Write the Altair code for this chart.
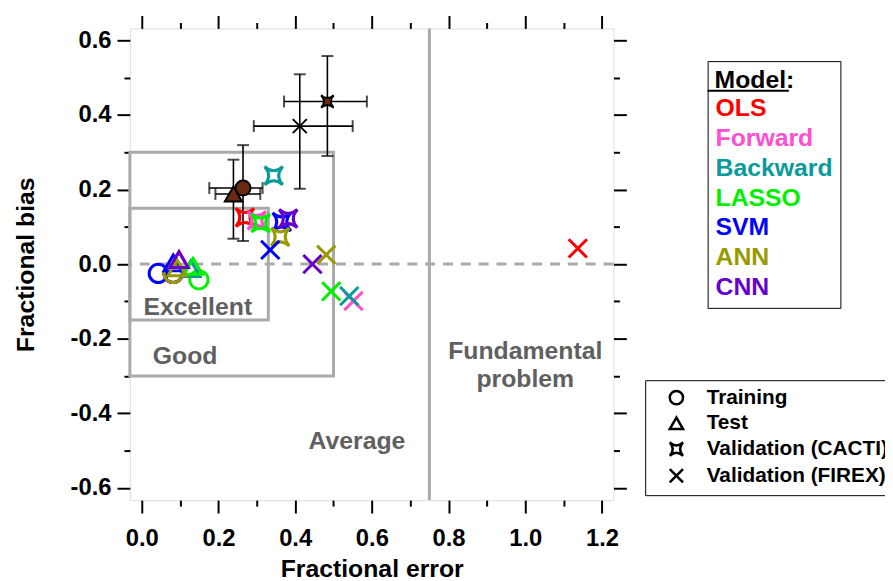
import altair as alt
import pandas as pd

# ---------------- data ----------------
MODELS = ["OLS", "Forward", "Backward", "LASSO", "SVM", "ANN", "CNN"]
MODEL_COLORS = ["#ff0000", "#ff4fd0", "#0a9a9a", "#00f000", "#0000ff", "#999900", "#6600cc"]
DATASETS = ["Training", "Test", "Validation (CACTI)", "Validation (FIREX)"]

TRAIN_FE = [0.082, 0.082, 0.082, 0.149, 0.043, 0.082, 0.082]
TRAIN_FB = [-0.025, -0.025, -0.025, -0.042, -0.025, -0.025, -0.025]
TEST_FE = [0.097, 0.097, 0.128, 0.134, 0.082, 0.092, 0.097]
TEST_FB = [0.012, 0.012, -0.012, -0.006, 0.003, -0.010, 0.012]
CACTI_FE = [0.269, 0.300, 0.344, 0.310, 0.365, 0.361, 0.382]
CACTI_FB = [0.125, 0.117, 0.237, 0.110, 0.113, 0.073, 0.122]
FIREX_FE = [1.137, 0.552, 0.541, 0.494, 0.335, 0.481, 0.445]
FIREX_FB = [0.042, -0.099, -0.086, -0.073, 0.038, 0.025, 0.000]
# drawing order of the training circles (later = on top)
TRAIN_DRAW = ["OLS", "Forward", "Backward", "CNN", "LASSO", "SVM", "ANN"]

# reference points with error bars (brown / black)
REF_SET = ["Training", "Test", "Validation (CACTI)", "Validation (FIREX)"]
REF_FE = [0.264, 0.239, 0.484, 0.412]
REF_FB = [0.204, 0.188, 0.436, 0.370]
REF_FE_LO = [0.176, 0.192, 0.371, 0.292]
REF_FE_HI = [0.315, 0.309, 0.587, 0.550]
REF_FB_LO = [0.062, 0.068, 0.290, 0.202]
REF_FB_HI = [0.319, 0.280, 0.558, 0.509]

# performance zones
BOX_NAME = ["Good", "Excellent"]
BOX_FE_MAX = [0.50, 0.33]
BOX_FB_MAX = [0.30, 0.15]
FUNDAMENTAL_FE = 0.75

ANNOT_TEXT = ["Excellent", "Good", "Average", "Fundamental\nproblem"]
ANNOT_FE = [0.146, 0.113, 0.561, 1.0]
ANNOT_FB = [-0.116, -0.246, -0.475, -0.233]

X_MAJOR = [0.0, 0.2, 0.4, 0.6, 0.8, 1.0, 1.2]
X_MINOR = [0.1, 0.3, 0.5, 0.7, 0.9, 1.1]
Y_MAJOR = [-0.6, -0.4, -0.2, 0.0, 0.2, 0.4, 0.6]
Y_MINOR = [-0.5, -0.3, -0.1, 0.1, 0.3, 0.5]
X_DOMAIN = [-0.031, 1.23]
Y_DOMAIN = [-0.633, 0.632]

# ---------------- tables ----------------
rows = []
fe_lists = {"Training": (TRAIN_FE, TRAIN_FB), "Test": (TEST_FE, TEST_FB),
            "Validation (CACTI)": (CACTI_FE, CACTI_FB), "Validation (FIREX)": (FIREX_FE, FIREX_FB)}
for ds in DATASETS:
    fe, fb = fe_lists[ds]
    order = TRAIN_DRAW if ds == "Training" else MODELS
    for m in order:
        i = MODELS.index(m)
        rows.append({"model": m, "dataset": ds, "fe": fe[i], "fb": fb[i]})
pts = pd.DataFrame(rows)

ref = pd.DataFrame({"dataset": REF_SET, "fe": REF_FE, "fb": REF_FB,
                    "fe_lo": REF_FE_LO, "fe_hi": REF_FE_HI,
                    "fb_lo": REF_FB_LO, "fb_hi": REF_FB_HI})
ref_h = pd.concat([ref.assign(xe=ref.fe_lo), ref.assign(xe=ref.fe_hi)])
ref_v = pd.concat([ref.assign(ye=ref.fb_lo), ref.assign(ye=ref.fb_hi)])

boxes = pd.DataFrame({"name": BOX_NAME, "x0": [X_DOMAIN[0]] * 2, "x1": BOX_FE_MAX,
                      "y0": [-v for v in BOX_FB_MAX], "y1": BOX_FB_MAX})
annot = pd.DataFrame({"text": ANNOT_TEXT, "fe": ANNOT_FE, "fb": ANNOT_FB})

# ---------------- styles ----------------
FONT = "Liberation Sans"
GRAY = "#aaaaaa"
BROWN = "#6b2a10"
STAR = "M-1,-1Q0,-0.1,1,-1Q0.1,0,1,1Q0,0.1,-1,1Q-0.1,0,-1,-1Z"
XCROSS = "M-1,-1L1,1M-1,1L1,-1"
SHAPES = ["circle", "triangle-up", STAR, XCROSS]
REF_MARK_SIZE = [230, 300, 160, 200]

xs = alt.Scale(domain=X_DOMAIN, nice=False, zero=False)
ys = alt.Scale(domain=Y_DOMAIN, nice=False, zero=False)
shape_scale = alt.Scale(domain=DATASETS, range=SHAPES)
color_scale = alt.Scale(domain=MODELS, range=MODEL_COLORS)

LBL = "(datum.value < 0 ? '-' : '') + format(abs(datum.value), '.1f')"


def X(field, axis=None):
    return alt.X(field, type="quantitative", scale=xs, axis=axis)


def Y(field, axis=None):
    return alt.Y(field, type="quantitative", scale=ys, axis=axis)


# zones
box_layer = alt.Chart(boxes).mark_rect(fillOpacity=0, stroke=GRAY, strokeWidth=3).encode(
    x=X("x0"), x2="x1", y=Y("y0"), y2="y1")
zero_line = alt.Chart(pd.DataFrame({"fb": [0.0]})).mark_rule(
    color=GRAY, strokeWidth=3, strokeDash=[10, 8]).encode(y=Y("fb"))
fund_line = alt.Chart(pd.DataFrame({"fe": [FUNDAMENTAL_FE]})).mark_rule(
    color=GRAY, strokeWidth=3).encode(x=X("fe"))
annot_layer = alt.Chart(annot).mark_text(
    font=FONT, fontSize=25, fontWeight="bold", color="#606060", lineBreak="\n", lineHeight=28
).encode(x=X("fe"), y=Y("fb"), text="text:N")

# reference points with error bars
err_h = alt.Chart(ref).mark_rule(color="black", strokeWidth=1.6).encode(
    x=X("fe_lo"), x2="fe_hi", y=Y("fb"))
err_v = alt.Chart(ref).mark_rule(color="black", strokeWidth=1.6).encode(
    x=X("fe"), y=Y("fb_lo"), y2="fb_hi")
cap_h = alt.Chart(ref_h).mark_tick(orient="vertical", color="black", size=12, thickness=2).encode(
    x=X("xe"), y=Y("fb"))
cap_v = alt.Chart(ref_v).mark_tick(orient="horizontal", color="black", size=12, thickness=2).encode(
    x=X("fe"), y=Y("ye"))
ref_layers = []
for ds, shp, sz in zip(DATASETS, SHAPES, REF_MARK_SIZE):
    ref_layers.append(
        alt.Chart(ref).transform_filter(alt.datum.dataset == ds).mark_point(
            shape=shp, size=sz, filled=True, fill=BROWN, stroke="black", strokeWidth=2,
            opacity=1, fillOpacity=1
        ).encode(x=X("fe"), y=Y("fb"))
    )

# model points
model_pts = alt.Chart(pts).mark_point(filled=False, size=340, strokeWidth=3, opacity=1).encode(
    x=X("fe"), y=Y("fb"),
    color=alt.Color("model:N", scale=color_scale, legend=alt.Legend(
        title="Model:", orient="none", legendX=583, legendY=33,
        strokeColor="black", padding=7,
        symbolOpacity=0, symbolSize=0, symbolStrokeWidth=0,
        labelOffset={"expr": "-24"},
        titleFont=FONT, titleFontSize=25, titleFontWeight="bold", titleColor="black",
        titlePadding=3,
        labelFont=FONT, labelFontSize=25, labelFontWeight="bold",
        labelColor={"expr": "scale('color', datum.value)"},
        rowPadding=4.1, labelLimit=400)),
    shape=alt.Shape("dataset:N", scale=shape_scale, legend=alt.Legend(
        title=None, orient="none", legendX=520, legendY=355,
        strokeColor="black", padding=7,
        symbolSize=180, symbolStrokeColor="black", symbolFillColor="transparent",
        symbolStrokeWidth=2.5, symbolOffset=14, labelOffset=20,
        labelFont=FONT, labelFontSize=21, labelFontWeight="bold", labelColor="black",
        rowPadding=2, labelLimit=400)),
)

# axes (major + minor on each of the four sides)
common = dict(grid=False, domain=False, tickColor="black", tickWidth=2,
              labelFont=FONT, labelFontWeight="bold", labelColor="black", labelFontSize=24,
              titleFont=FONT, titleFontWeight="bold", titleColor="black", titleFontSize=25)
ax_x_major = alt.Axis(orient="bottom", values=X_MAJOR, tickSize=13, labelPadding=14,
                      labelExpr=LBL, title="Fractional error", titlePadding=6, **common)
ax_x_minor = alt.Axis(orient="bottom", values=X_MINOR, tickSize=6, labels=False, title=None, **common)
ax_x_top = alt.Axis(orient="top", values=X_MAJOR, tickSize=13, labels=False, title=None, **common)
ax_x_top_minor = alt.Axis(orient="top", values=X_MINOR, tickSize=6, labels=False, title=None, **common)
ax_y_major = alt.Axis(orient="left", values=Y_MAJOR, tickSize=13, labelPadding=6,
                      labelExpr=LBL, title="Fractional bias", titlePadding=32, **common)
ax_y_minor = alt.Axis(orient="left", values=Y_MINOR, tickSize=6, labels=False, title=None, **common)
ax_y_right = alt.Axis(orient="right", values=Y_MAJOR, tickSize=13, labels=False, title=None, **common)
ax_y_right_minor = alt.Axis(orient="right", values=Y_MINOR, tickSize=6, labels=False, title=None, **common)

axis_src = alt.Chart(pts).mark_point(opacity=0)
axes_layers = [
    axis_src.encode(x=X("fe", ax_x_major), y=Y("fb", ax_y_major)),
    axis_src.encode(x=X("fe", ax_x_minor), y=Y("fb", ax_y_minor)),
    axis_src.encode(x=X("fe", ax_x_top), y=Y("fb", ax_y_right)),
    axis_src.encode(x=X("fe", ax_x_top_minor), y=Y("fb", ax_y_right_minor)),
]

# underline of the legend title "Model:"
underline = alt.Chart(pd.DataFrame({"k": [0]})).mark_rule(color="black", strokeWidth=2).encode(
    x=alt.value(583), x2=alt.value(665), y=alt.value(63))

chart = alt.layer(
    box_layer, zero_line, fund_line, annot_layer,
    err_h, err_v, cap_h, cap_v, *ref_layers, model_pts,
    *axes_layers, underline,
).resolve_scale(x="shared", y="shared").resolve_axis(
    x="independent", y="independent"
).properties(
    width=488, height=476,
    padding={"left": 123, "top": 18, "right": 274, "bottom": 79},
    autosize=alt.AutoSizeParams(type="none"),
    background="white",
).configure_view(stroke="black", strokeWidth=2).configure_legend(
    strokeWidth=2
).configure(font=FONT)

chart.save("out.html", embed_options={"renderer": "svg", "actions": False})
